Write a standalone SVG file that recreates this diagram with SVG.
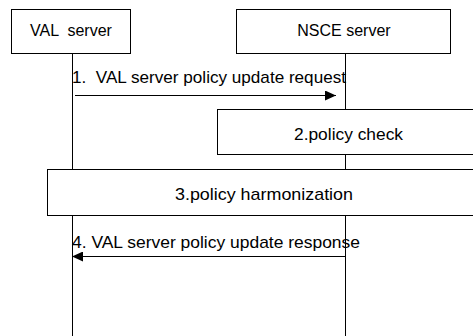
<svg xmlns="http://www.w3.org/2000/svg" width="473" height="336" viewBox="0 0 473 336">
<style>
.box{fill:#fff;stroke:#000;stroke-width:1}
.life{stroke:#000;stroke-width:1}
.msg{stroke:#000;stroke-width:1;fill:none}
text{font-family:"Liberation Sans",Arial,sans-serif;font-size:16px;fill:#000}
.lbl{font-size:17px}
</style>
<defs>
<marker id="ah" markerWidth="12" markerHeight="10" refX="11" refY="5" orient="auto" markerUnits="userSpaceOnUse">
<path d="M0,0 L11,5 L0,10 Z" fill="#000"/>
</marker>
</defs>
<g id="lifelines">
<line class="life" x1="72.5" y1="54" x2="72.5" y2="336"/>
<line class="life" x1="345.5" y1="54" x2="345.5" y2="336" stroke="#555"/>
</g>
<g id="val-server">
<rect class="box" x="11.5" y="9.5" width="119" height="44"/>
<text x="71" y="36" text-anchor="middle" xml:space="preserve">VAL  server</text>
</g>
<g id="nsce-server">
<rect class="box" x="236.5" y="9.5" width="214" height="44"/>
<text x="344" y="36" text-anchor="middle">NSCE server</text>
</g>
<g id="connectors">
<line class="msg" x1="75" y1="95.5" x2="336" y2="95.5" marker-end="url(#ah)"/>
<text class="lbl" x="72" y="83" xml:space="preserve" textLength="274" lengthAdjust="spacingAndGlyphs">1.  VAL server policy update request</text>
<line class="msg" x1="345" y1="256.5" x2="72" y2="256.5" marker-end="url(#ah)"/>
<text class="lbl" x="72" y="248" textLength="288" lengthAdjust="spacingAndGlyphs">4. VAL server policy update response</text>
</g>
<g id="policy-check">
<rect class="box" x="217.5" y="109.5" width="270" height="45"/>
<text class="lbl" x="294" y="140" textLength="109" lengthAdjust="spacingAndGlyphs">2.policy check</text>
</g>
<g id="policy-harmonization">
<rect class="box" x="47.5" y="169.5" width="440" height="46"/>
<text class="lbl" x="175" y="200" textLength="178" lengthAdjust="spacingAndGlyphs">3.policy harmonization</text>
</g>
</svg>
